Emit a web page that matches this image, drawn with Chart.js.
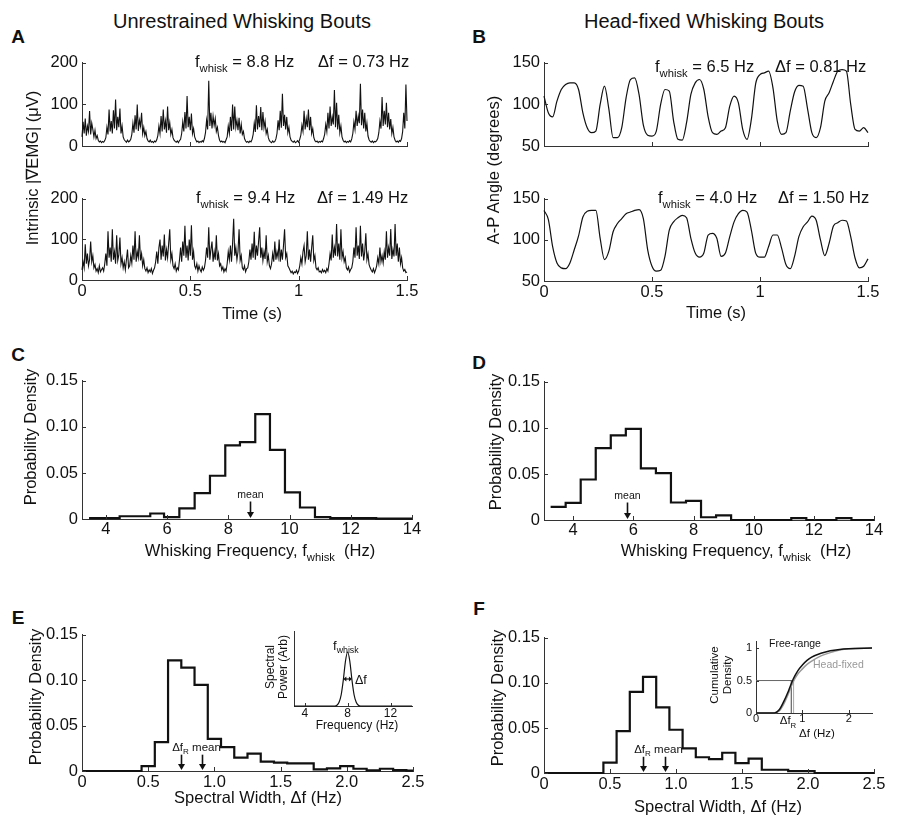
<!DOCTYPE html>
<html>
<head>
<meta charset="utf-8">
<script src="https://cdn.jsdelivr.net/npm/chart.js@4.4.0/dist/chart.umd.min.js"></script>
<style>
  body { margin: 0; background: #fff; }
  #fig { position: relative; width: 897px; height: 815px; overflow: hidden;
         font-family: "Liberation Sans", Arial, sans-serif; color: #111; }
  #fig canvas { position: absolute; }
  .t { position: absolute; white-space: nowrap; line-height: 1; }
  .c { transform: translate(-50%, -50%); }
  .l { transform: translate(0, -50%); }
  .r { transform: translate(-50%, -50%) rotate(-90deg); }
  sub { font-size: 0.68em; vertical-align: -0.45em; line-height: 0; }
</style>
</head>
<body>
<div id="fig"></div>
<script>
// ---- traces (sampled at fixed steps) ----
const emgDt = 0.005;
const emgTop = [
  22,58,30,66,25,48,35,84,28,55,40,22,38,18,25,
  14,10,12,8,11,9,13,
  20,45,28,88,35,60,30,86,42,112,38,70,45,90,30,48,22,
  15,12,9,14,10,12,16,
  28,55,32,74,40,100,36,62,48,80,30,45,25,35,18,
  12,10,14,9,11,8,12,10,15,
  25,48,30,72,35,88,40,60,32,95,38,56,28,40,20,
  14,11,9,12,8,13,16,
  30,58,35,82,42,120,45,70,38,78,30,42,22,
  15,10,12,8,11,9,13,10,18,
  32,62,40,157,48,80,42,72,50,66,35,45,25,
  14,10,12,9,11,8,15,
  22,48,30,70,36,100,40,95,45,62,38,68,30,52,28,35,18,
  12,9,11,8,12,10,16,
  28,55,34,98,40,72,45,94,38,82,44,60,30,40,20,
  13,10,8,12,9,11,17,
  30,62,38,85,44,126,48,75,40,70,32,45,22,
  14,11,9,12,8,10,13,9,16,
  26,50,35,85,40,66,45,88,38,70,30,42,20,
  13,10,12,8,11,9,12,10,18,
  28,52,35,80,42,95,48,70,52,135,45,104,40,75,32,48,22,
  14,10,12,8,11,9,13,10,17,
  30,58,40,85,48,72,55,150,50,88,42,80,35,55,24,
  15,11,9,12,8,11,10,13,18,
  32,60,42,118,48,85,52,104,45,80,40,65,30,45,22,
  14,10,12,9,13,11,18,
  35,80,42,148,60
];
const emgBottom = [
  25,45,30,88,40,65,35,50,95,45,60,30,38,
  22,28,18,35,20,25,30,22,
  40,65,35,120,55,80,45,125,50,70,40,110,48,62,105,40,55,30,45,25,50,75,30,
  35,60,42,85,50,120,45,70,55,110,48,65,35,50,28,
  22,30,18,25,20,28,16,24,30,
  45,70,40,80,100,50,85,58,112,48,75,55,90,125,50,65,35,
  28,40,22,30,25,
  50,80,45,95,60,134,55,85,48,100,60,135,50,70,35,
  28,40,22,35,25,20,32,24,30,
  48,80,55,130,50,75,95,45,70,50,110,48,65,35,40,
  25,32,20,28,22,
  40,70,50,85,45,90,151,60,80,50,70,125,48,60,30,
  25,35,20,28,30,
  45,75,50,90,55,119,50,85,60,95,130,55,80,48,70,52,110,45,60,35,28,
  40,65,45,95,50,70,55,100,45,75,50,85,125,55,65,35,30,
  24,18,22,15,20,18,24,16,22,
  35,55,40,70,85,45,60,120,50,75,45,80,110,48,60,30,
  25,30,20,22,18,26,20,24,18,28,22,
  40,65,48,112,55,80,60,138,58,90,50,125,55,70,45,55,30,
  25,32,20,26,30,
  45,80,55,130,60,85,52,134,58,90,48,70,115,50,65,38,30,
  24,20,28,18,25,
  35,55,40,80,45,60,42,70,50,120,55,80,60,126,52,75,58,138,60,90,45,80,40,55,30,
  22,26,18,20
];
const angleDt = 0.02;
const angleTop = [
  110,90,85,104,118,124,126,126,118,90,72,66,68,100,122,95,60,60,72,108,
  130,132,112,75,63,62,68,100,118,116,80,58,57,78,112,126,130,118,85,66,
  64,68,72,98,110,102,70,58,82,125,136,138,140,120,80,64,66,92,115,123,
  122,95,66,60,72,104,114,128,140,142,140,100,70,68,72,66
];
const angleBottom = [
  136,125,92,72,66,65,72,88,105,128,135,136,136,102,76,86,110,120,126,132,
  134,136,137,126,88,68,62,63,80,112,122,127,130,127,102,84,79,84,106,108,
  102,80,84,104,122,132,136,134,112,84,79,79,92,106,106,90,70,65,80,104,
  116,122,129,124,100,81,96,117,121,124,123,104,78,66,68,77
];

// ---- histograms: bin edges (last entry closes the final bin) and densities ----
const freeFreqEdges = [3.45,3.95,4.45,4.95,5.45,5.9,6.4,6.9,7.4,7.9,8.38,8.88,9.36,9.85,10.34,10.83,11.33,11.83,12.33,12.83,13.33,14];
const freeFreqDensity = [0.001,0.001,0.003,0.003,0.006,0.002,0.0115,0.028,0.047,0.080,0.0835,0.114,0.075,0.029,0.0125,0.002,0.001,0.001,0.001,0.0005,0.0005];
const headFreqEdges = [3.25,3.75,4.25,4.75,5.25,5.75,6.25,6.75,7.25,7.75,8.25,8.75,9.25,9.75,10.25,10.75,11.25,11.75,12.25,12.75,13.25,13.75,14];
const headFreqDensity = [0.0143,0.0186,0.044,0.078,0.092,0.099,0.056,0.051,0.019,0.0207,0.003,0.005,0,0,0,0,0.002,0,0,0.002,0,0];
const widthEdges = [0,0.45,0.55,0.65,0.75,0.85,0.95,1.05,1.15,1.25,1.35,1.45,1.55,1.65,1.75,1.85,1.95,2.05,2.15,2.25,2.35,2.45,2.5];
const freeWidthDensity = [0,0.0054,0.0318,0.122,0.114,0.095,0.0355,0.0264,0.0148,0.0192,0.0104,0.0093,0.0083,0.0083,0.0018,0.003,0.0054,0.0025,0.0007,0.0025,0.001,0.0005];
const headWidthDensity = [0,0.0116,0.0466,0.090,0.1067,0.0728,0.048,0.0273,0.0175,0.0153,0.0225,0.011,0.016,0.0036,0.0036,0.002,0.002,0,0,0,0,0];

const meanFreeFreq = 8.7, meanHeadFreq = 5.8;
const freeWidthR = 0.75, freeWidthMean = 0.91;
const headWidthR = 0.75, headWidthMean = 0.915;

// ---- insets ----
const specFreq  = [3, 6.8, 7.0, 7.2, 7.4, 7.6, 7.8, 8.0, 8.2, 8.4, 8.6, 8.8, 9.0, 9.2, 14];
const specPower = [0, 0, 0.01, 0.05, 0.15, 0.35, 0.6, 0.72, 0.6, 0.35, 0.15, 0.05, 0.01, 0, 0];
const cdfWidth  = [0, 0.4, 0.5, 0.6, 0.7, 0.8, 0.9, 1.0, 1.1, 1.2, 1.4, 1.6, 1.8, 2.0, 2.5];
const cdfFree   = [0, 0, 0.05, 0.18, 0.34, 0.52, 0.65, 0.74, 0.81, 0.86, 0.92, 0.96, 0.98, 0.99, 1];
const cdfHead   = [0, 0, 0.03, 0.14, 0.30, 0.48, 0.60, 0.68, 0.75, 0.80, 0.88, 0.93, 0.97, 0.99, 1];
const cdfMedFree = 0.76, cdfMedHead = 0.81;

// ---- tick values / labels ----
const timeTicks = [0, 0.5, 1, 1.5], timeLabels = ['0', '0.5', '1', '1.5'];
const emgTicks = [0, 100, 200], emgLabels = ['0', '100', '200'];
const angleTicks = [50, 100, 150], angleLabels = ['50', '100', '150'];
const densTicks = [0, 0.05, 0.10, 0.15], densLabels = ['0', '0.05', '0.10', '0.15'];
const freqTicks = [4, 6, 8, 10, 12, 14], freqLabels = ['4', '6', '8', '10', '12', '14'];
const widthTicks = [0, 0.5, 1, 1.5, 2, 2.5], widthLabels = ['0', '0.5', '1.0', '1.5', '2.0', '2.5'];
const specTicks = [4, 8, 12], specLabels = ['4', '8', '12'];
const cdfTicksX = [0, 1, 2], cdfLabelsX = ['0', '1', '2'];
const cdfTicksY = [0, 0.5, 1], cdfLabelsY = ['0', '0.5', '1'];

Chart.defaults.font.family = '"Liberation Sans", Arial, sans-serif';
Chart.defaults.color = '#111';

const fig = document.getElementById('fig');

function series(xs, ys) { return ys.map((y, i) => ({x: xs[i], y})); }
function sampled(dt, ys) { return ys.map((y, i) => ({x: i * dt, y})); }
function steps(edges, vals) {
  const pts = vals.map((v, i) => ({x: edges[i], y: v}));
  pts.push({x: edges[edges.length - 1], y: vals[vals.length - 1]});
  return pts;
}

// inward tick marks, MATLAB style
const frame = {
  id: 'frame',
  afterDraw(chart, args, o) {
    const ctx = chart.ctx, a = chart.chartArea, xs = chart.scales.x, ys = chart.scales.y;
    const len = o.len || 4;
    ctx.save();
    ctx.strokeStyle = '#333';
    ctx.lineWidth = 1;
    ctx.beginPath();
    xs.ticks.forEach(t => {
      const p = Math.round(xs.getPixelForValue(t.value)) + 0.5;
      ctx.moveTo(p, a.bottom); ctx.lineTo(p, a.bottom - len);
    });
    if (o.yTicks !== false) ys.ticks.forEach(t => {
      const p = Math.round(ys.getPixelForValue(t.value)) + 0.5;
      ctx.moveTo(a.left, p); ctx.lineTo(a.left + len, p);
    });
    ctx.stroke();
    ctx.restore();
  }
};

// arrows with labels, and the double arrow for the peak width
const marks = {
  id: 'marks',
  afterDatasetsDraw(chart, args, o) {
    const ctx = chart.ctx, xs = chart.scales.x, ys = chart.scales.y;
    const font = s => s + 'px "Liberation Sans", Arial, sans-serif';
    ctx.save();
    ctx.strokeStyle = '#111';
    ctx.fillStyle = '#111';
    (o.arrows || []).forEach(m => {
      const px = Math.round(xs.getPixelForValue(m.x)) + 0.5;
      const top = ys.getPixelForValue(m.top), bot = ys.getPixelForValue(0) - 1;
      ctx.lineWidth = 1.6;
      ctx.beginPath(); ctx.moveTo(px, top); ctx.lineTo(px, bot - 5); ctx.stroke();
      ctx.beginPath(); ctx.moveTo(px - 3.5, bot - 6); ctx.lineTo(px + 3.5, bot - 6); ctx.lineTo(px, bot); ctx.closePath(); ctx.fill();
      ctx.textBaseline = 'alphabetic';
      const y = top - 4, cx = px + (m.dx || 0);
      ctx.font = font(o.size);
      if (m.sub) {
        const w1 = ctx.measureText(m.label).width;
        ctx.font = font(o.size * 0.7);
        const w2 = ctx.measureText(m.sub).width;
        const x0 = cx - (w1 + w2) / 2;
        ctx.textAlign = 'left';
        ctx.font = font(o.size);
        ctx.fillText(m.label, x0, y);
        ctx.font = font(o.size * 0.7);
        ctx.fillText(m.sub, x0 + w1, y + o.size * 0.3);
      } else {
        ctx.textAlign = 'center';
        ctx.fillText(m.label, cx, y);
      }
    });
    if (o.span) {
      const s = o.span, x1 = xs.getPixelForValue(s.x1), x2 = xs.getPixelForValue(s.x2), y = ys.getPixelForValue(s.y);
      ctx.lineWidth = 1.2;
      ctx.beginPath(); ctx.moveTo(x1 + 2, y); ctx.lineTo(x2 - 2, y); ctx.stroke();
      ctx.beginPath(); ctx.moveTo(x1, y); ctx.lineTo(x1 + 3, y - 2.5); ctx.lineTo(x1 + 3, y + 2.5); ctx.closePath(); ctx.fill();
      ctx.beginPath(); ctx.moveTo(x2, y); ctx.lineTo(x2 - 3, y - 2.5); ctx.lineTo(x2 - 3, y + 2.5); ctx.closePath(); ctx.fill();
    }
    ctx.restore();
  }
};

function axis(min, max, ticks, labels, o) {
  return {
    type: 'linear', min, max,
    grid: {display: false, drawTicks: false},
    border: {display: true, color: '#333', width: 1},
    afterBuildTicks: s => { s.ticks = ticks.map(v => ({value: v})); },
    ticks: {
      display: o.show !== false, padding: o.padding ?? 3, autoSkip: false, maxRotation: 0,
      font: {size: o.size || 16.5}, color: '#111',
      callback: (v, i) => labels[i]
    }
  };
}

// area: chart-area box in page pixels; pad: room for the axes around it
function plot(area, pad, datasets, x, y, pluginOpts) {
  const cv = document.createElement('canvas');
  const w = area.r - area.l + pad.l + pad.r, h = area.b - area.t + pad.t + pad.b;
  cv.width = w; cv.height = h;
  cv.style.width = w + 'px'; cv.style.height = h + 'px';
  cv.style.left = (area.l - pad.l) + 'px';
  cv.style.top = (area.t - pad.t) + 'px';
  fig.appendChild(cv);
  x.afterFit = s => { s.height = pad.b; };
  y.afterFit = s => { s.width = pad.l; };
  return new Chart(cv.getContext('2d'), {
    type: 'line',
    data: {datasets},
    options: {
      responsive: false, animation: false, events: [],
      layout: {padding: {left: 0, top: pad.t, right: pad.r, bottom: 0}},
      elements: {point: {radius: 0}},
      scales: {x, y},
      plugins: Object.assign({legend: {display: false}, tooltip: {enabled: false}}, pluginOpts || {})
    },
    plugins: [frame, marks]
  });
}

function line(data, color, width, extra) {
  return Object.assign({data, borderColor: color, borderWidth: width, fill: false, pointRadius: 0, clip: false}, extra || {});
}

const bigPad = {l: 48, t: 12, r: 18, b: 34};

// A: EMG traces
plot({l: 82, t: 61, r: 407, b: 146}, bigPad,
  [line(sampled(emgDt, emgTop), '#111', 1.1)],
  axis(0, 1.5, timeTicks, timeLabels, {show: false}),
  axis(0, 200, emgTicks, emgLabels, {padding: 4}));
plot({l: 82, t: 197, r: 407, b: 280}, bigPad,
  [line(sampled(emgDt, emgBottom), '#111', 1.1)],
  axis(0, 1.5, timeTicks, timeLabels, {padding: 2}),
  axis(0, 200, emgTicks, emgLabels, {padding: 4}));

// B: whisker angle traces
plot({l: 544, t: 61, r: 868, b: 146}, bigPad,
  [line(sampled(angleDt, angleTop), '#111', 1.2, {cubicInterpolationMode: 'monotone'})],
  axis(0, 1.5, timeTicks, timeLabels, {show: false}),
  axis(50, 150, angleTicks, angleLabels, {padding: 4}));
plot({l: 544, t: 197, r: 868, b: 281}, bigPad,
  [line(sampled(angleDt, angleBottom), '#111', 1.2, {cubicInterpolationMode: 'monotone'})],
  axis(0, 1.5, timeTicks, timeLabels, {padding: 2}),
  axis(50, 150, angleTicks, angleLabels, {padding: 4}));

// C, D: whisking frequency histograms
plot({l: 82, t: 379, r: 412, b: 519}, bigPad,
  [line(steps(freeFreqEdges, freeFreqDensity), '#111', 2.2, {stepped: 'before'})],
  axis(3.22, 14, freqTicks, freqLabels, {padding: 1}),
  axis(0, 0.15, densTicks, densLabels, {padding: 4}),
  {marks: {size: 10.5, arrows: [{x: meanFreeFreq, top: 0.019, label: 'mean'}]}});
plot({l: 544, t: 380, r: 874, b: 520}, bigPad,
  [line(steps(headFreqEdges, headFreqDensity), '#111', 2.2, {stepped: 'before'})],
  axis(3.03, 14, freqTicks, freqLabels, {padding: 1}),
  axis(0, 0.15, densTicks, densLabels, {padding: 4}),
  {marks: {size: 10.5, arrows: [{x: meanHeadFreq, top: 0.019, label: 'mean'}]}});

// E, F: spectral width histograms
plot({l: 82, t: 633, r: 413, b: 771}, bigPad,
  [line(steps(widthEdges, freeWidthDensity), '#111', 2.2, {stepped: 'before'})],
  axis(0, 2.5, widthTicks, widthLabels, {padding: 2}),
  axis(0, 0.15, densTicks, densLabels, {padding: 4}),
  {marks: {size: 11.5, arrows: [
    {x: freeWidthR, top: 0.018, label: '\u0394f', sub: 'R', dx: -1},
    {x: freeWidthMean, top: 0.018, label: 'mean', dx: 4}]}});
plot({l: 544, t: 636, r: 874, b: 773}, bigPad,
  [line(steps(widthEdges, headWidthDensity), '#111', 2.2, {stepped: 'before'})],
  axis(0, 2.5, widthTicks, widthLabels, {padding: 2}),
  axis(0, 0.15, densTicks, densLabels, {padding: 4}),
  {marks: {size: 11.5, arrows: [
    {x: headWidthR, top: 0.018, label: '\u0394f', sub: 'R', dx: -1},
    {x: headWidthMean, top: 0.018, label: 'mean', dx: 3}]}});

// E inset: example spectral peak
plot({l: 294, t: 631, r: 412, b: 706}, {l: 3, t: 4, r: 8, b: 16},
  [line(series(specFreq, specPower), '#111', 1.2, {cubicInterpolationMode: 'monotone'})],
  axis(3, 14, specTicks, specLabels, {padding: 0, size: 12}),
  axis(0, 1, [0, 1], ['', ''], {show: false}),
  {frame: {yTicks: false, len: 3}, marks: {span: {x1: 7.6, x2: 8.4, y: 0.36}}});

// F inset: cumulative densities
plot({l: 756, t: 637, r: 872, b: 713}, {l: 24, t: 6, r: 6, b: 14},
  [line(series(cdfWidth, cdfFree), '#111', 1.5, {cubicInterpolationMode: 'monotone'}),
   line(series(cdfWidth, cdfHead), '#9a9a9a', 1.5, {cubicInterpolationMode: 'monotone'}),
   line([{x: 0, y: 0.5}, {x: cdfMedHead, y: 0.5}], '#666', 1),
   line([{x: cdfMedFree, y: 0}, {x: cdfMedFree, y: 0.5}], '#444', 1),
   line([{x: cdfMedHead, y: 0}, {x: cdfMedHead, y: 0.5}], '#aaa', 1)],
  axis(0, 2.5, cdfTicksX, cdfLabelsX, {padding: -1, size: 11}),
  axis(0, 1.1, cdfTicksY, cdfLabelsY, {padding: 4, size: 11}),
  {frame: {len: 3}});

// ---- text ----
function text(html, x, y, size, cls, style) {
  const d = document.createElement('div');
  d.className = 't ' + cls;
  d.innerHTML = html;
  d.style.left = x + 'px';
  d.style.top = y + 'px';
  d.style.fontSize = size + 'px';
  if (style) d.style.cssText += style;
  fig.appendChild(d);
}

text('Unrestrained Whisking Bouts', 242, 21, 20, 'c');
text('Head-fixed Whisking Bouts', 704, 21, 20, 'c');

[['A', 18, 36], ['B', 479, 36], ['C', 18, 354], ['D', 479, 362], ['E', 18, 617], ['F', 479, 608]]
  .forEach(p => text(p[0], p[1], p[2], 19, 'c', 'font-weight:bold'));

text('Intrinsic |\u2207EMG| (\u03bcV)', 32, 168, 16.5, 'r');
text('A-P Angle (degrees)', 493, 170, 16.5, 'r');
text('Probability Density', 30, 437, 16.5, 'r');
text('Probability Density', 495, 442, 16.5, 'r');
text('Probability Density', 35, 697, 16.5, 'r');
text('Probability Density', 497, 698, 16.5, 'r');

text('Time (s)', 252, 313, 16.5, 'c');
text('Time (s)', 716, 312, 16.5, 'c');
text('Whisking Frequency, f<sub>whisk</sub>&nbsp; (Hz)', 260, 550, 16.5, 'c');
text('Whisking Frequency, f<sub>whisk</sub>&nbsp; (Hz)', 736, 550, 16.5, 'c');
text('Spectral Width, \u0394f (Hz)', 258, 797, 16.5, 'c');
text('Spectral Width, \u0394f (Hz)', 718, 806, 16.5, 'c');

text('f<sub>whisk</sub> = 8.8 Hz', 195, 61, 16.5, 'l');
text('\u0394f = 0.73 Hz', 318, 61, 16.5, 'l');
text('f<sub>whisk</sub> = 9.4 Hz', 196, 197, 16.5, 'l');
text('\u0394f = 1.49 Hz', 317, 197, 16.5, 'l');
text('f<sub>whisk</sub> = 6.5 Hz', 655, 66, 16.5, 'l');
text('\u0394f = 0.81 Hz', 775, 66, 16.5, 'l');
text('f<sub>whisk</sub> = 4.0 Hz', 658, 197, 16.5, 'l');
text('\u0394f = 1.50 Hz', 778, 197, 16.5, 'l');

// inset labels
text('Spectral<br>Power (Arb)', 277, 667, 12, 'r', 'text-align:center;line-height:1.1');
text('Frequency (Hz)', 357, 725, 12, 'c');
text('f<sub>whisk</sub>', 333, 645, 13, 'l');
text('\u0394f', 355, 680, 12.5, 'l');

text('Cumulative<br>Density', 721, 675, 11.5, 'r', 'text-align:center;line-height:1.1');
text('Free-range', 769, 643, 10.5, 'l');
text('Head-fixed', 813, 664, 10.5, 'l', 'color:#999');
text('\u0394f<sub>R</sub>', 788, 721, 11.5, 'c');
text('\u0394f (Hz)', 817, 734, 11.5, 'c');
</script>
</body>
</html>
